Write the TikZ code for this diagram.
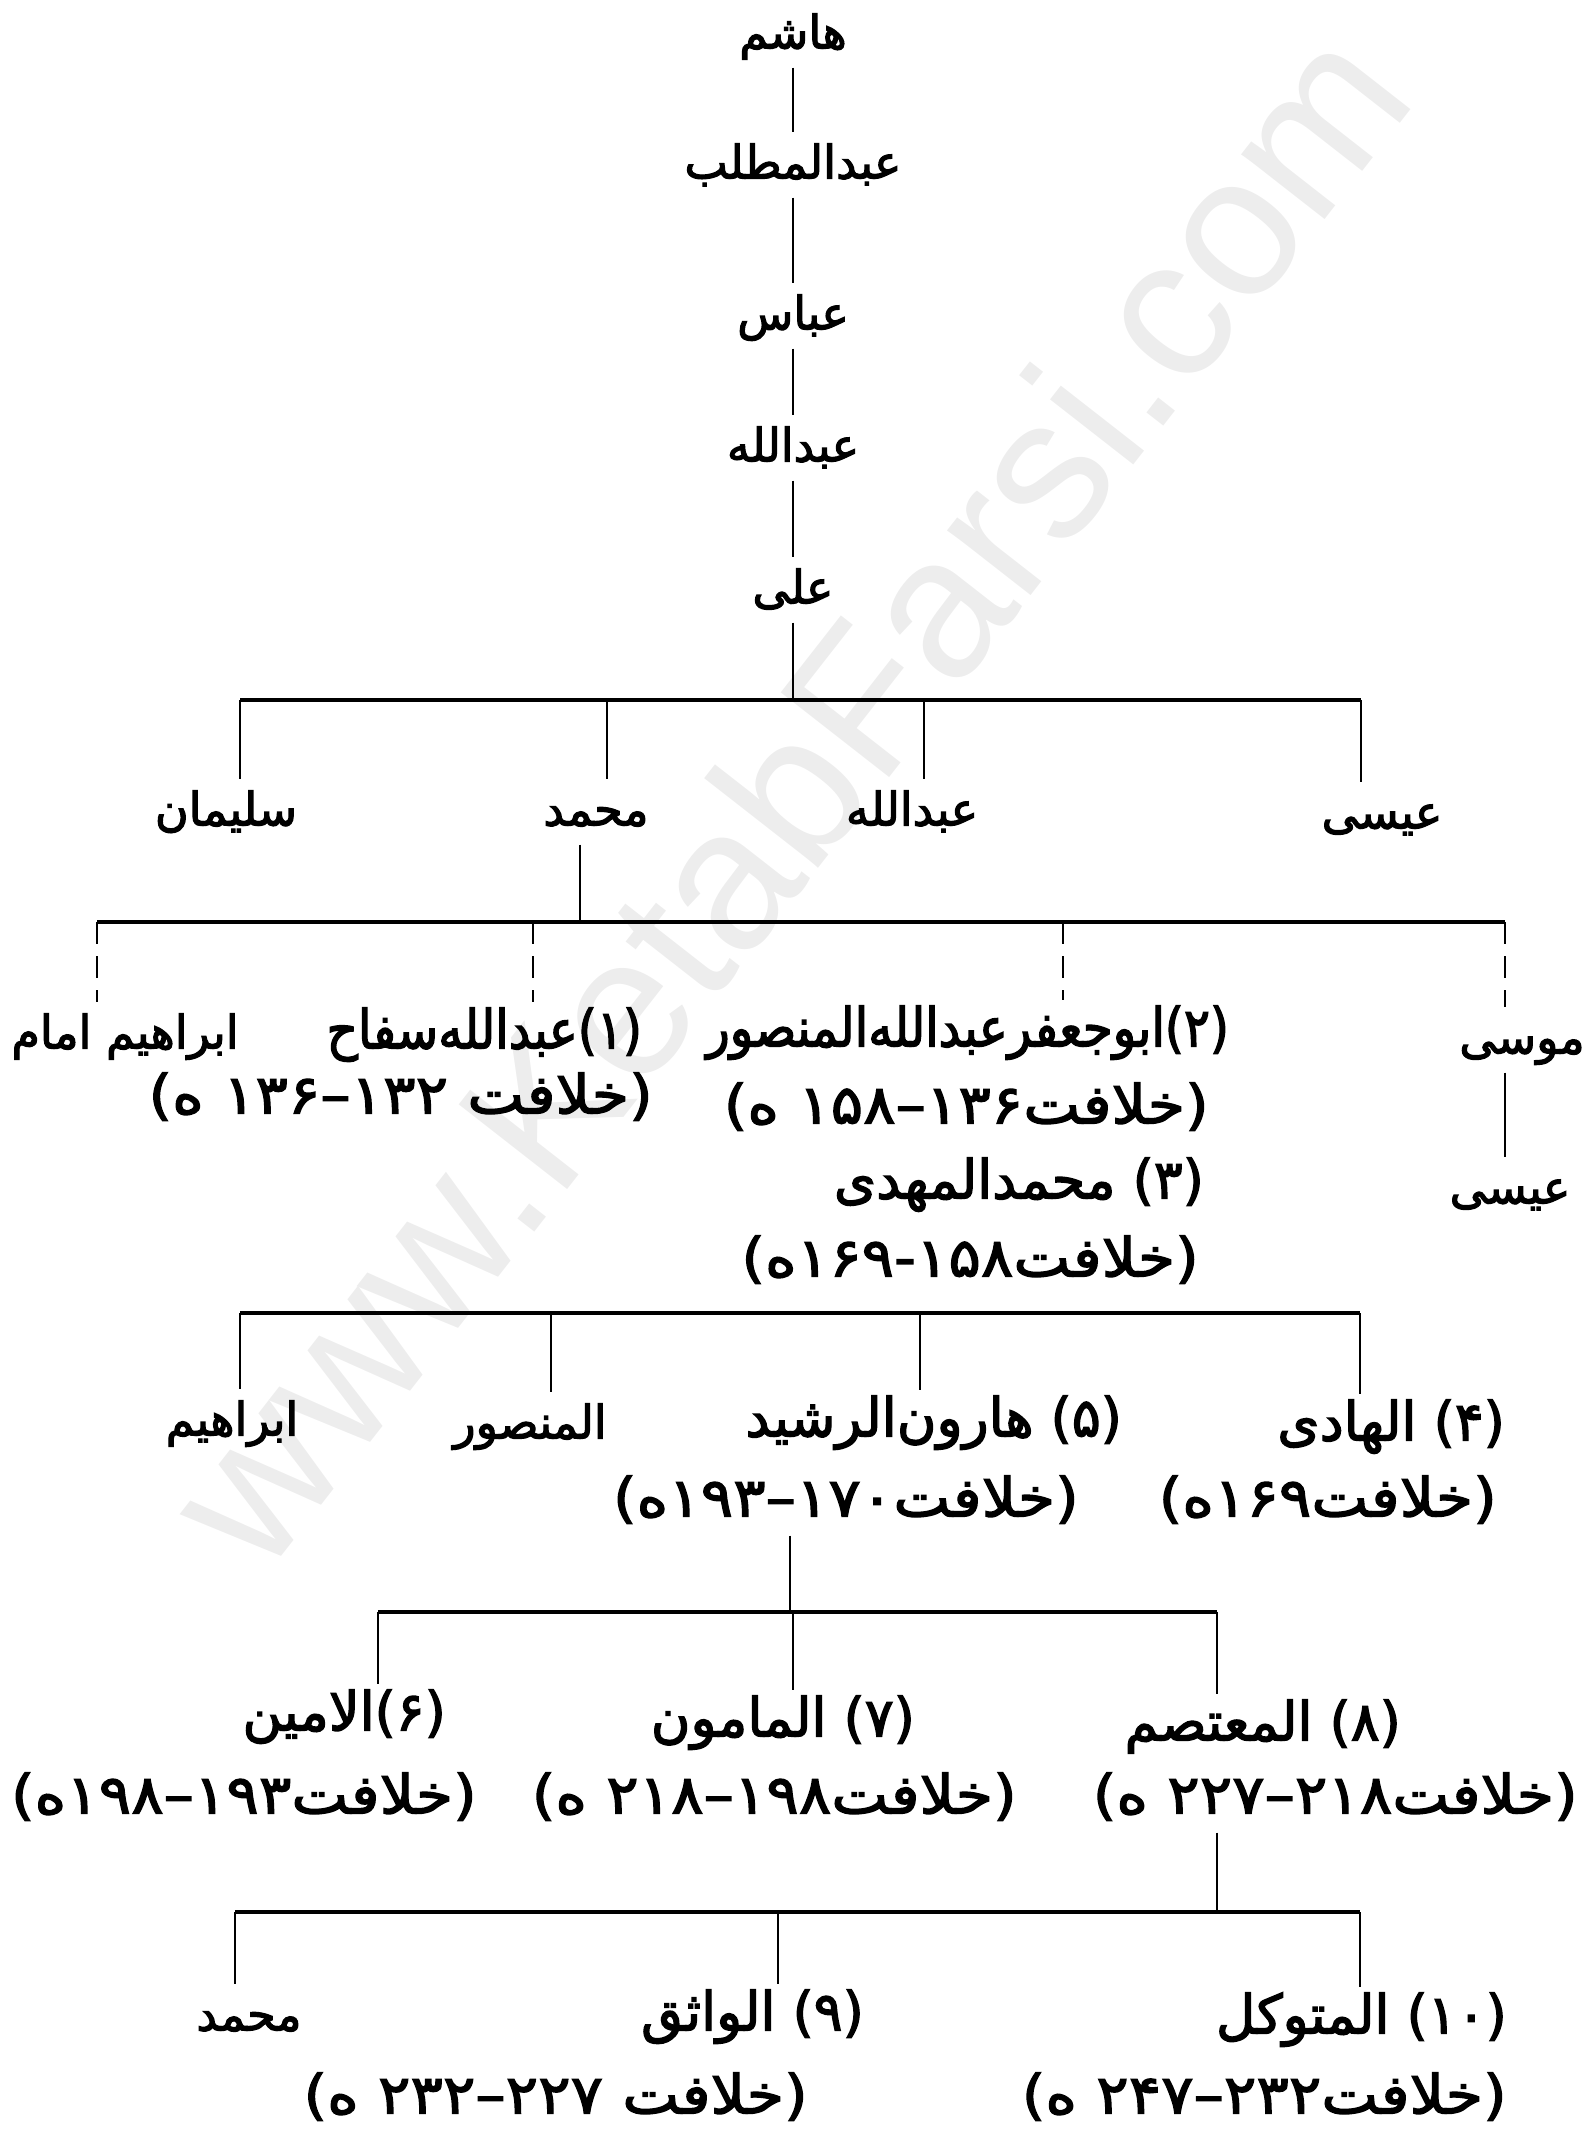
\documentclass[tikz,border=0pt]{standalone}
\usepackage{fontspec}
\newfontfamily\fafont[Script=Arabic,FakeBold=2.5]{DejaVu Sans}
\newfontfamily\fawide[Script=Arabic,FakeBold=2.5,FakeStretch=1.12]{DejaVu Sans}
\newfontfamily\fanarrow[Script=Arabic,FakeBold=2.5,FakeStretch=0.9]{DejaVu Sans}
\newfontfamily\wmfont{Liberation Sans}
\TeXXeTstate=1
\newcommand\fa[1]{\beginR#1\endR}
\tikzset{
  person/.style={font=\fafont\fontsize{54}{64}\selectfont,inner sep=6pt,text height=40pt,text depth=13pt},
  plain/.style={person,font=\fafont\fontsize{46}{56}\selectfont},
  narrow/.style={person,font=\fanarrow\fontsize{54}{64}\selectfont},
  reign/.style={person,font=\fawide\fontsize{54}{64}\selectfont},
  link/.style={line width=2.5pt},
  broken/.style={link,dash pattern=on 22pt off 12pt},
  bar/.style={line width=3.5pt},
  watermark/.style={font=\wmfont\fontsize{200}{210}\selectfont,text=black!7,rotate=52},
}
\begin{document}
\begin{tikzpicture}[x=1pt,y=-1pt]
  \useasboundingbox (0,0) rectangle (1592,2133);
  \node[watermark] (wm) at (785,795) {www.KetabFarsi.com};

  \node[plain] (hashem)      at (793,35)  {\fa{هاشم}};
  \node[plain] (abdmuttalib) at (793,165) {\fa{عبدالمطلب}};
  \node[plain] (abbas)       at (793,316) {\fa{عباس}};
  \node[plain] (abdallah)    at (793,448) {\fa{عبدالله}};
  \node[plain] (ali)         at (793,590) {\fa{علی}};
  \draw[link] (hashem) -- (abdmuttalib);
  \draw[link] (abdmuttalib) -- (abbas);
  \draw[link] (abbas) -- (abdallah);
  \draw[link] (abdallah) -- (ali);

  \node[plain] (sulayman)  at (226,812)  {\fa{سلیمان}};
  \node[plain] (muhammad)  at (596,812)  {\fa{محمد}};
  \node[plain] (abdallahb) at (912,812)  {\fa{عبدالله}};
  \node[plain] (isa)       at (1382,815) {\fa{عیسی}};
  \coordinate (b1)  at (793,700);
  \coordinate (b1a) at (240,700);
  \coordinate (b1b) at (607,700);
  \coordinate (b1c) at (924,700);
  \coordinate (b1d) at (1361,700);
  \draw[link] (ali) -- (b1);
  \draw[bar] (b1a) -- (b1d);
  \foreach \c/\n in {b1a/sulayman,b1b/muhammad,b1c/abdallahb,b1d/isa}
    \draw[link] (\c) -- (\c |- \n.north);

  \node[plain] (ibrahimimam) at (125,1035) {\fa{ابراهیم امام}};
  \node[narrow,anchor=east] (saffah)  at (648,1035)  {\fa{(۱)عبدالله^^^^200cسفاح}};
  \node[reign,anchor=east]  (saffahr) at (659,1100)  {\fa{(خلافت ۱۳۲–۱۳۶ ه)}};
  \node[narrow,anchor=east] (mansur)  at (1235,1033) {\fa{(۲)ابوجعفرعبدالله^^^^200cالمنصور}};
  \node[reign,anchor=east]  (mansurr) at (1215,1110) {\fa{(خلافت۱۳۶–۱۵۸ ه)}};
  \node[person,anchor=east] (mahdi)   at (1210,1185) {\fa{(۳) محمدالمهدی}};
  \node[reign,anchor=east]  (mahdir)  at (1205,1263) {\fa{(خلافت۱۵۸-۱۶۹ه)}};
  \node[plain] (musa) at (1522,1040) {\fa{موسی}};
  \node[plain] (isab) at (1510,1190) {\fa{عیسی}};
  \coordinate (b2)  at (580,922);
  \coordinate (b2a) at (97,922);
  \coordinate (b2b) at (533,922);
  \coordinate (b2c) at (1063,922);
  \coordinate (b2d) at (1505,922);
  \draw[link] (muhammad.south -| b2) -- (b2);
  \draw[bar] (b2a) -- (b2d);
  \foreach \c/\n in {b2a/ibrahimimam,b2b/saffah,b2c/mansur,b2d/musa}
    \draw[broken] (\c) -- (\c |- \n.north);
  \draw[link] (musa.south -| b2d) -- (isab.north -| b2d);

  \node[plain] (ibrahim) at (232,1422) {\fa{ابراهیم}};
  \node[plain] (mansurb) at (530,1425) {\fa{المنصور}};
  \node[person,anchor=east] (harun)  at (1128,1423) {\fa{(۵) هارون^^^^200cالرشید}};
  \node[reign,anchor=east]  (harunr) at (1085,1503) {\fa{(خلافت۱۷۰–۱۹۳ه)}};
  \node[person,anchor=east] (hadi)   at (1511,1427) {\fa{(۴) الهادی}};
  \node[reign,anchor=east]  (hadir)  at (1503,1503) {\fa{(خلافت۱۶۹ه)}};
  \coordinate (b3a) at (240,1313);
  \coordinate (b3b) at (551,1313);
  \coordinate (b3c) at (920,1313);
  \coordinate (b3d) at (1360,1313);
  \draw[bar] (b3a) -- (b3d);
  \foreach \c/\n in {b3a/ibrahim,b3b/mansurb,b3c/harun,b3d/hadi}
    \draw[link] (\c) -- (\c |- \n.north);

  \node[person,anchor=east] (amin)     at (452,1717)  {\fa{(۶)الامین}};
  \node[reign,anchor=east]  (aminr)    at (483,1800)  {\fa{(خلافت۱۹۳–۱۹۸ه)}};
  \node[person,anchor=east] (mamun)    at (921,1723)  {\fa{(۷) المامون}};
  \node[reign,anchor=east]  (mamunr)   at (1023,1800) {\fa{(خلافت۱۹۸–۲۱۸ ه)}};
  \node[person,anchor=east] (mutasim)  at (1407,1727) {\fa{(۸) المعتصم}};
  \node[reign,anchor=east]  (mutasimr) at (1584,1800) {\fa{(خلافت۲۱۸–۲۲۷ ه)}};
  \coordinate (b4)  at (790,1612);
  \coordinate (b4a) at (378,1612);
  \coordinate (b4b) at (793,1612);
  \coordinate (b4c) at (1217,1612);
  \draw[link] (harunr.south -| b4) -- (b4);
  \draw[bar] (b4a) -- (b4c);
  \foreach \c/\n in {b4a/amin,b4b/mamun,b4c/mutasim}
    \draw[link] (\c) -- (\c |- \n.north);

  \node[plain] (muhammadb) at (249,2017) {\fa{محمد}};
  \node[person,anchor=east] (wathiq)      at (870,2017)  {\fa{(۹) الواثق}};
  \node[reign,anchor=east]  (wathiqr)     at (814,2100)  {\fa{(خلافت ۲۲۷–۲۳۲ ه)}};
  \node[person,anchor=east] (mutawakkil)  at (1513,2020) {\fa{(۱۰) المتوکل}};
  \node[reign,anchor=east]  (mutawakkilr) at (1513,2100) {\fa{(خلافت۲۳۲–۲۴۷ ه)}};
  \coordinate (b5)  at (1217,1912);
  \coordinate (b5a) at (235,1912);
  \coordinate (b5b) at (778,1912);
  \coordinate (b5c) at (1360,1912);
  \draw[link] (mutasimr.south -| b5) -- (b5);
  \draw[bar] (b5a) -- (b5c);
  \foreach \c/\n in {b5a/muhammadb,b5b/wathiq,b5c/mutawakkil}
    \draw[link] (\c) -- (\c |- \n.north);
\end{tikzpicture}
\end{document}
